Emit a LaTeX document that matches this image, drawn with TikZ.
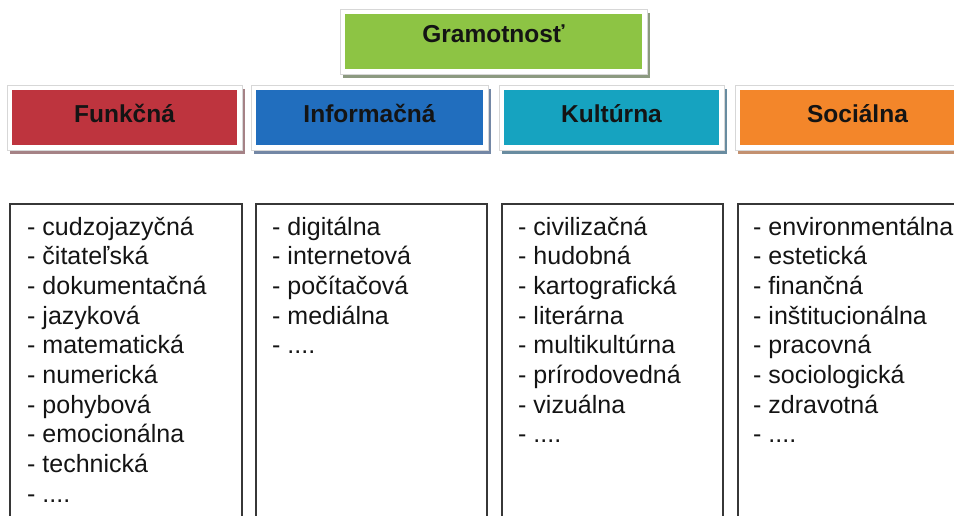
\documentclass[tikz,border=0pt]{standalone}
\usepackage{fontspec}
\setmainfont{Liberation Sans}
\definecolor{cgreen}{RGB}{141,196,68}
\definecolor{cred}{RGB}{190,52,62}
\definecolor{cblue}{RGB}{33,110,190}
\definecolor{cteal}{RGB}{22,163,192}
\definecolor{corange}{RGB}{243,134,42}
\definecolor{sgreen}{RGB}{140,154,128}
\definecolor{sred}{RGB}{165,130,134}
\definecolor{sblue}{RGB}{115,135,165}
\definecolor{steal}{RGB}{105,140,160}
\definecolor{sorange}{RGB}{195,145,112}
\definecolor{framegray}{RGB}{215,215,215}
\definecolor{listgray}{RGB}{55,55,55}
\definecolor{txt}{RGB}{20,20,20}
\newcommand\fourdots{.{}.{}.{}.}
\newcommand\catbox[9]{%
  \fill[#7] (#2-2,#3-1) rectangle (#4+8,#5+9);
  \draw[framebox] (#2-5,#3-5) rectangle (#4+5,#5+5);
  \fill[#6] (#2,#3) rectangle (#4,#5);
  \node[head] (#1) at ({(#2+#4)/2},#8) {#9};
}
\begin{document}
\begin{tikzpicture}[x=1pt,y=-1pt,
  framebox/.style={draw=framegray,fill=white,line width=0.8pt},
  head/.style={font=\fontsize{24.5}{29.7}\selectfont\bfseries,anchor=base,inner sep=0pt,text=txt},
  item/.style={font=\fontsize{25}{29.7}\selectfont,anchor=base west,inner sep=0pt,text=txt},
  listbox/.style={draw=listgray,line width=2pt}]
\useasboundingbox (0,0) rectangle (954,515);
\clip (0,0) rectangle (954,515);
\fill[white] (0,0) rectangle (954,515);
% top
\catbox{gram}{345}{14}{642}{69}{cgreen}{sgreen}{42}{Gramotnosť}
% categories
\catbox{funk}{12}{90}{237}{145}{cred}{sred}{122}{Funkčná}
\catbox{info}{256}{90}{483}{145}{cblue}{sblue}{122}{Informačná}
\catbox{kult}{504}{90}{719}{145}{cteal}{steal}{122}{Kultúrna}
\catbox{soc}{740}{90}{975}{145}{corange}{sorange}{122}{Sociálna}
% list boxes
\draw[listbox] (10,204) rectangle (242,540);
\draw[listbox] (256,204) rectangle (487,540);
\draw[listbox] (502,204) rectangle (723,540);
\draw[listbox] (738,204) rectangle (990,540);
% items
\foreach \t [count=\i] in {cudzojazyčná,čitateľská,dokumentačná,jazyková,matematická,numerická,pohybová,emocionálna,technická,\fourdots}
  \node[item] (fa\i) at (27,{235+29.7*(\i-1)}) {- \t};
\foreach \t [count=\i] in {digitálna,internetová,počítačová,mediálna,\fourdots}
  \node[item] (ib\i) at (272,{235+29.7*(\i-1)}) {- \t};
\foreach \t [count=\i] in {civilizačná,hudobná,kartografická,literárna,multikultúrna,prírodovedná,vizuálna,\fourdots}
  \node[item] (kc\i) at (518,{235+29.7*(\i-1)}) {- \t};
\foreach \t [count=\i] in {environmentálna,estetická,finančná,inštitucionálna,pracovná,sociologická,zdravotná,\fourdots}
  \node[item] (sd\i) at (753,{235+29.7*(\i-1)}) {- \t};
\end{tikzpicture}
\end{document}
